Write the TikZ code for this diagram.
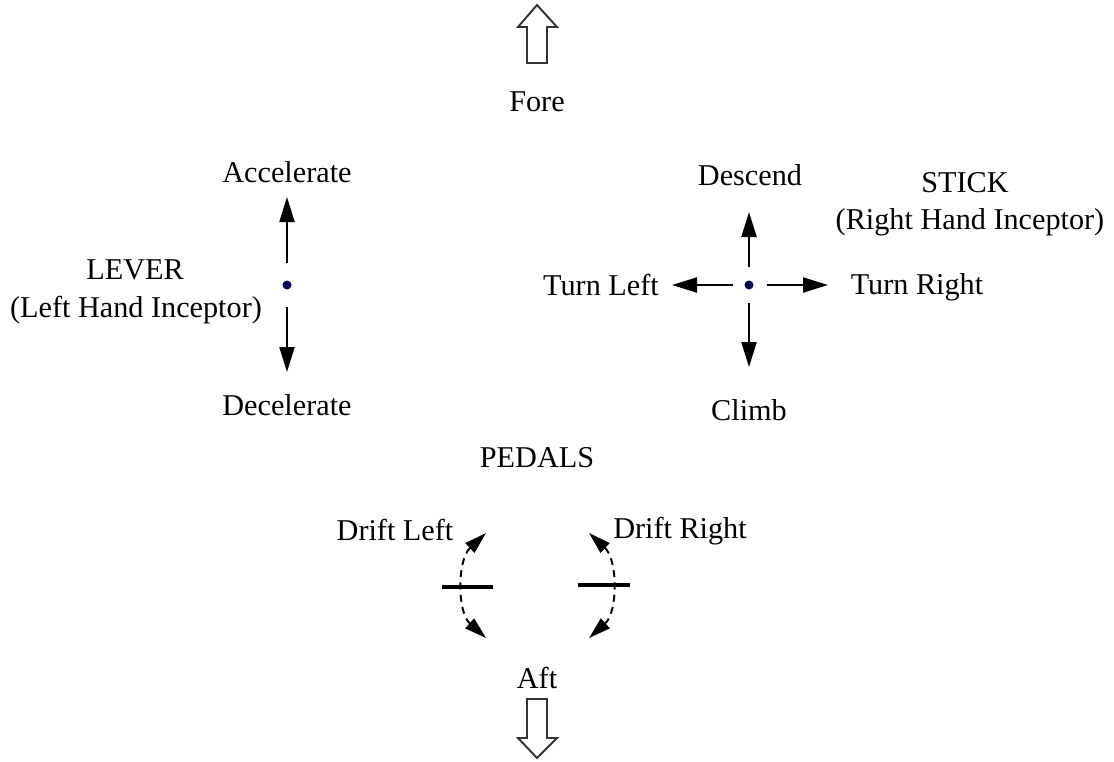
\documentclass[tikz,border=0pt]{standalone}
\usepackage{fontspec}
\setmainfont{Liberation Serif}
\usetikzlibrary{arrows.meta}

\tikzset{
  lbl/.style={font=\fontsize{17.2}{20}\selectfont, inner sep=1pt},
  pivot/.style={circle, fill=black!70!blue, inner sep=0pt, minimum size=0.18cm},
  ctrl/.style={-{Triangle[length=0.5cm,width=0.3cm]}, line width=1.2pt},
  drift/.style={{Triangle[length=0.44cm,width=0.26cm]}-{Triangle[length=0.44cm,width=0.26cm]},
    dash pattern=on 4pt off 3pt, line width=1.1pt},
  pedal/.style={line width=2pt},
  hollow/.style={draw=black!80, line width=1.1pt, fill=white, line join=miter}
}

\begin{document}
\begin{tikzpicture}[x=0.02cm, y=-0.02cm]
  \useasboundingbox (0,0) rectangle (1114,761);

  % labels
  \node[lbl] (fore) at (537,102) {Fore};
  \node[lbl] (aft) at (537,678) {Aft};
  \node[lbl] (accel) at (287,172) {Accelerate};
  \node[lbl] (decel) at (287,405) {Decelerate};
  \node[lbl] (lever) at (135,270) {LEVER};
  \node[lbl] (leverlbl) at (136,310) {(Left Hand Inceptor)};
  \node[lbl] (descend) at (750,175) {Descend};
  \node[lbl] (climb) at (749,410) {Climb};
  \node[lbl] (turnl) at (601,285) {Turn Left};
  \node[lbl] (turnr) at (917,287) {Turn Right};
  \node[lbl] (stick) at (965,183) {STICK};
  \node[lbl] (sticklbl) at (970,222) {(Right Hand Inceptor)};
  \node[lbl] (pedals) at (537,458) {PEDALS};
  \node[lbl] (driftl) at (395,530) {Drift Left};
  \node[lbl] (driftr) at (680,531) {Drift Right};

  % pivot points
  \node[pivot] (leverpt) at (287,285) {};
  \node[pivot] (stickpt) at (749,285) {};

  % arrow ends
  \coordinate (accelend) at (287,197);
  \coordinate (decelend) at (287,372);
  \coordinate (descendend) at (749,212);
  \coordinate (climbend) at (749,367);
  \coordinate (turnlend) at (672,285);
  \coordinate (turnrend) at (828,285);

  \begin{scope}[ctrl]
    \draw ([yshift=0.44cm]leverpt.center) -- (accelend);
    \draw ([yshift=-0.44cm]leverpt.center) -- (decelend);
    \draw ([yshift=0.36cm]stickpt.center) -- (descendend);
    \draw ([yshift=-0.36cm]stickpt.center) -- (climbend);
    \draw ([xshift=-0.32cm]stickpt.center) -- (turnlend);
    \draw ([xshift=0.36cm]stickpt.center) -- (turnrend);
  \end{scope}

  % pedals
  \coordinate (pl1) at (442,587);
  \coordinate (pl2) at (493,587);
  \coordinate (pr1) at (578,585);
  \coordinate (pr2) at (630,585);
  \draw[pedal] (pl1) -- (pl2);
  \draw[pedal] (pr1) -- (pr2);

  \coordinate (dlt) at (486,533);
  \coordinate (dlb) at (486,638);
  \coordinate (drt) at (589,533);
  \coordinate (drb) at (589,638);
  \draw[drift] (dlt) .. controls (457,560) and (457,612) .. (dlb);
  \draw[drift] (drt) .. controls (618,560) and (618,612) .. (drb);

  % fore and aft arrows
  \draw[hollow] (527,63) -- (527,27) -- (518,27) -- (537,5) -- (557,27)
    -- (547,27) -- (547,63) -- cycle;
  \draw[hollow] (527,699) -- (527,738) -- (518,738) -- (537,758) -- (557,738)
    -- (547,738) -- (547,699) -- cycle;
\end{tikzpicture}
\end{document}
